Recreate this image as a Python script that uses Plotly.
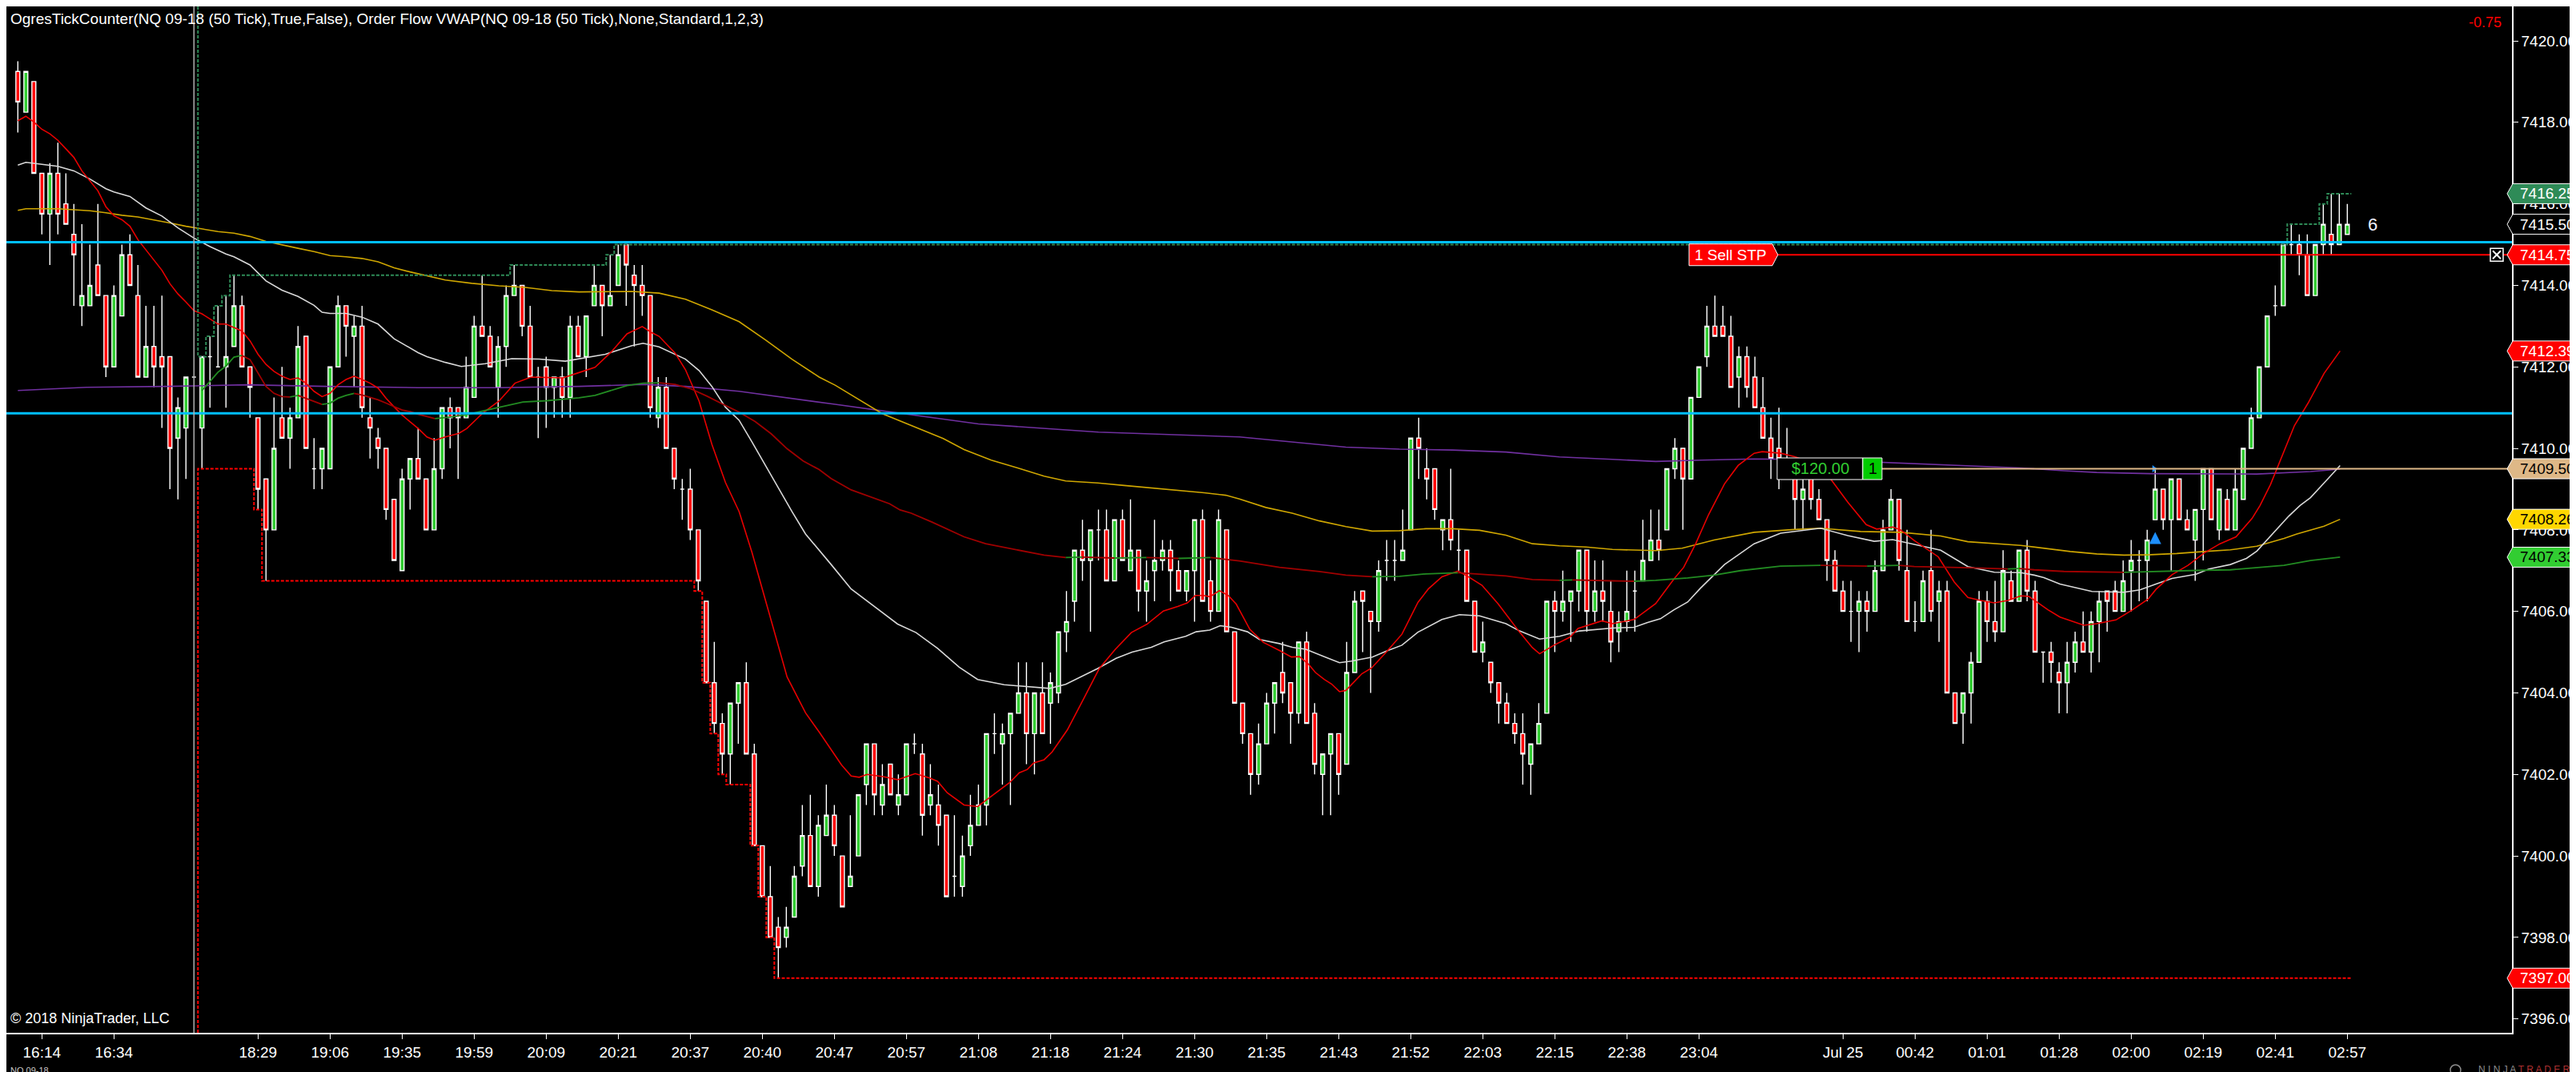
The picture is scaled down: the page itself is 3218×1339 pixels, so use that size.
import plotly.graph_objects as go

# NQ 09-18, 50 tick bars (bar index 0..291)
opens = [
    7419.25, 7418.25, 7419.0, 7416.75, 7415.75, 7416.75, 7416.0, 7415.25, 7413.5, 7413.5,
    7414.5, 7413.75, 7412.0, 7413.25, 7414.75, 7413.75, 7411.75, 7412.5, 7412.25, 7412.25,
    7410.25, 7410.5, 7411.75, 7410.5, 7412.25, 7412.0, 7412.0, 7412.5, 7413.5, 7412.0,
    7410.75, 7409.25, 7408.0, 7410.75, 7410.25, 7410.75, 7412.75, 7409.5, 7409.5, 7409.5,
    7412.0, 7413.5, 7412.75, 7413.0, 7410.75, 7410.25, 7410.0, 7408.75, 7407.0, 7409.25,
    7409.75, 7409.25, 7408.0, 7409.5, 7411.0, 7411.0, 7410.75, 7411.25, 7413.0, 7412.75,
    7411.5, 7412.5, 7413.75, 7414.0, 7413.0, 7411.75, 7412.0, 7411.5, 7411.75, 7411.25,
    7413.0, 7412.25, 7413.5, 7414.0, 7413.5, 7414.0, 7415.0, 7414.25, 7414.0, 7413.75,
    7410.75, 7411.5, 7410.0, 7409.0, 7409.0, 7408.0, 7406.25, 7404.25, 7403.25, 7402.5,
    7403.75, 7404.25, 7402.5, 7400.25, 7399.0, 7398.25, 7398.0, 7398.5, 7399.75, 7400.5,
    7399.25, 7400.5, 7401.0, 7400.0, 7399.25, 7400.0, 7401.75, 7402.75, 7401.25, 7402.25,
    7401.25, 7401.5, 7402.75, 7402.5, 7401.25, 7401.25, 7401.0, 7399.5, 7399.25, 7400.25,
    7400.75, 7401.25, 7403.0, 7402.75, 7403.0, 7403.5, 7404.0, 7403.0, 7404.0, 7403.75,
    7404.0, 7405.5, 7406.25, 7407.5, 7407.25, 7408.0, 7408.0, 7406.75, 7408.25, 7407.0,
    7407.5, 7406.5, 7407.0, 7407.25, 7407.5, 7407.0, 7406.5, 7407.0, 7408.25, 7406.75,
    7406.0, 7408.0, 7405.5, 7403.75, 7403.0, 7402.0, 7402.75, 7403.75, 7404.5, 7404.25,
    7403.5, 7405.25, 7403.5, 7402.0, 7402.5, 7403.0, 7402.25, 7404.5, 7406.5, 7406.0,
    7405.75, 7407.25, 7407.25, 7407.25, 7408.0, 7410.25, 7409.5, 7409.5, 7408.0, 7408.25,
    7407.5, 7407.5, 7406.25, 7405.0, 7404.75, 7404.25, 7403.75, 7403.25, 7403.0, 7402.25,
    7402.75, 7403.5, 7406.25, 7406.0, 7406.25, 7406.5, 7407.5, 7406.0, 7406.5, 7406.0,
    7405.5, 7405.75, 7406.5, 7406.75, 7407.25, 7407.75, 7408.0, 7409.5, 7410.0, 7409.25,
    7411.25, 7412.25, 7413.0, 7413.0, 7412.75, 7411.75, 7412.25, 7411.75, 7411.0, 7410.25,
    7410.0, 7409.75, 7409.5, 7408.75, 7409.25, 7408.75, 7408.25, 7407.25, 7406.5, 7406.0,
    7406.0, 7406.25, 7406.0, 7407.0, 7408.0, 7408.75, 7407.0, 7405.75, 7405.75, 7407.0,
    7406.25, 7406.5, 7404.0, 7403.5, 7404.0, 7404.75, 7406.25, 7405.75, 7405.5, 7406.75,
    7406.25, 7407.5, 7406.5, 7405.0, 7405.0, 7404.5, 7404.25, 7404.75, 7405.25, 7405.0,
    7405.75, 7406.5, 7406.5, 7406.0, 7407.0, 7407.25, 7407.25, 7408.25, 7409.0, 7408.25,
    7409.25, 7408.25, 7407.75, 7408.5, 7409.5, 7408.0, 7408.75, 7408.0, 7408.75, 7410.0,
    7410.75, 7412.0, 7413.5, 7413.5, 7415.0, 7415.0, 7414.75, 7413.75, 7415.0, 7415.25,
    7415.0, 7415.25,
]
highs = [
    7419.5, 7419.25, 7419.0, 7416.75, 7417.0, 7417.5, 7416.75, 7416.0, 7415.5, 7415.0,
    7416.0, 7413.75, 7414.0, 7415.0, 7415.25, 7414.5, 7413.5, 7413.5, 7413.75, 7412.25,
    7411.25, 7411.75, 7411.75, 7412.25, 7412.75, 7413.5, 7413.75, 7414.25, 7413.75, 7412.0,
    7410.75, 7409.25, 7411.25, 7412.0, 7411.0, 7413.0, 7412.75, 7410.25, 7410.0, 7412.0,
    7413.75, 7413.5, 7413.25, 7413.5, 7411.25, 7410.5, 7410.0, 7408.75, 7409.5, 7409.75,
    7410.5, 7409.25, 7410.25, 7411.0, 7411.25, 7411.0, 7412.25, 7413.25, 7414.25, 7413.0,
    7412.75, 7414.0, 7414.5, 7414.0, 7413.5, 7412.0, 7412.25, 7411.75, 7412.0, 7413.25,
    7413.25, 7413.25, 7414.5, 7414.0, 7414.75, 7415.0, 7415.0, 7414.5, 7414.5, 7413.75,
    7411.75, 7411.75, 7410.0, 7409.25, 7409.5, 7408.0, 7406.25, 7405.25, 7403.5, 7403.75,
    7404.25, 7404.75, 7402.75, 7400.25, 7399.75, 7398.5, 7398.75, 7399.75, 7401.25, 7401.5,
    7401.0, 7401.75, 7401.25, 7400.0, 7401.0, 7401.5, 7402.75, 7402.75, 7402.25, 7402.25,
    7402.0, 7402.75, 7403.0, 7402.75, 7402.25, 7401.75, 7401.0, 7401.0, 7400.5, 7401.5,
    7401.75, 7403.0, 7403.5, 7403.25, 7403.5, 7404.75, 7404.75, 7404.0, 7404.75, 7404.5,
    7405.5, 7406.5, 7407.5, 7408.25, 7408.0, 7408.5, 7408.5, 7408.25, 7408.5, 7408.75,
    7407.5, 7407.25, 7408.25, 7407.75, 7407.75, 7407.25, 7407.0, 7408.25, 7408.5, 7407.25,
    7408.5, 7408.0, 7405.5, 7403.75, 7403.0, 7403.25, 7404.0, 7404.25, 7405.25, 7404.25,
    7405.25, 7405.5, 7403.75, 7402.5, 7403.0, 7403.0, 7405.25, 7406.5, 7406.5, 7406.0,
    7407.25, 7407.75, 7407.75, 7408.5, 7410.25, 7410.75, 7410.0, 7409.5, 7408.25, 7409.5,
    7408.0, 7407.5, 7406.25, 7405.75, 7404.75, 7404.25, 7404.0, 7403.5, 7403.5, 7402.75,
    7403.75, 7406.25, 7406.5, 7407.0, 7406.5, 7407.5, 7407.5, 7407.25, 7407.25, 7406.75,
    7406.0, 7407.0, 7407.0, 7408.25, 7408.5, 7408.5, 7409.5, 7410.25, 7410.0, 7411.25,
    7412.0, 7413.5, 7413.75, 7413.5, 7413.25, 7412.5, 7412.5, 7412.25, 7411.75, 7410.75,
    7411.0, 7410.5, 7409.5, 7409.25, 7409.25, 7409.0, 7408.25, 7407.5, 7406.75, 7406.75,
    7406.5, 7406.5, 7407.25, 7408.25, 7409.0, 7408.75, 7408.0, 7406.25, 7407.0, 7408.0,
    7406.75, 7406.75, 7404.0, 7404.0, 7405.0, 7406.5, 7406.5, 7406.75, 7407.5, 7407.0,
    7407.5, 7407.75, 7406.75, 7405.0, 7405.25, 7404.75, 7405.25, 7405.5, 7406.0, 7406.0,
    7406.5, 7406.5, 7406.75, 7407.25, 7407.75, 7407.5, 7408.0, 7409.5, 7409.0, 7409.25,
    7409.25, 7408.5, 7408.5, 7409.5, 7409.5, 7409.0, 7409.0, 7409.5, 7410.0, 7411.0,
    7412.0, 7413.25, 7414.0, 7415.0, 7415.5, 7415.25, 7415.25, 7415.0, 7416.0, 7416.25,
    7416.25, 7416.0,
]
lows = [
    7417.75, 7418.25, 7416.75, 7415.25, 7414.5, 7415.25, 7415.5, 7413.5, 7413.0, 7413.5,
    7413.75, 7411.75, 7412.0, 7413.25, 7414.0, 7411.75, 7411.75, 7411.5, 7410.5, 7409.0,
    7408.75, 7409.25, 7411.75, 7409.5, 7411.0, 7412.0, 7411.0, 7412.5, 7412.0, 7410.75,
    7408.5, 7406.75, 7408.0, 7410.25, 7409.5, 7410.75, 7410.0, 7409.0, 7409.0, 7409.5,
    7412.0, 7412.25, 7411.5, 7410.75, 7409.75, 7409.5, 7408.25, 7407.25, 7407.0, 7408.5,
    7409.25, 7408.0, 7408.0, 7409.25, 7410.0, 7409.25, 7410.75, 7411.25, 7412.75, 7412.0,
    7410.75, 7412.0, 7413.75, 7412.75, 7411.75, 7410.25, 7410.5, 7410.75, 7410.75, 7410.75,
    7412.25, 7411.75, 7413.5, 7412.75, 7413.5, 7414.0, 7413.5, 7412.5, 7413.25, 7410.75,
    7410.5, 7410.0, 7409.0, 7408.25, 7407.75, 7406.5, 7404.25, 7403.0, 7402.0, 7401.75,
    7402.75, 7402.5, 7400.25, 7399.0, 7398.0, 7397.0, 7397.75, 7398.5, 7399.5, 7399.25,
    7399.0, 7400.5, 7400.0, 7398.75, 7399.25, 7400.0, 7401.25, 7401.0, 7401.0, 7401.5,
    7401.0, 7401.5, 7402.5, 7400.5, 7401.0, 7400.25, 7399.0, 7399.0, 7399.0, 7400.0,
    7400.75, 7400.75, 7402.5, 7401.75, 7401.25, 7403.5, 7402.25, 7402.0, 7403.0, 7402.75,
    7403.75, 7405.0, 7405.75, 7406.75, 7405.5, 7407.25, 7406.75, 7406.75, 7407.25, 7407.0,
    7406.0, 7405.75, 7406.25, 7407.0, 7406.25, 7406.5, 7406.25, 7405.75, 7406.25, 7405.75,
    7406.0, 7405.5, 7403.75, 7402.75, 7401.5, 7401.75, 7402.75, 7403.0, 7403.75, 7402.75,
    7403.25, 7403.25, 7402.0, 7401.0, 7401.0, 7401.5, 7402.25, 7404.5, 7405.0, 7404.0,
    7405.5, 7406.75, 7406.75, 7407.25, 7408.0, 7409.25, 7408.75, 7408.25, 7407.5, 7407.5,
    7407.0, 7406.25, 7405.0, 7404.75, 7404.0, 7403.25, 7403.25, 7402.75, 7401.75, 7401.5,
    7402.75, 7403.5, 7405.0, 7405.75, 7405.25, 7406.0, 7405.5, 7405.75, 7405.75, 7404.75,
    7405.0, 7405.5, 7405.5, 7406.75, 7407.25, 7407.25, 7408.0, 7409.25, 7408.0, 7409.25,
    7411.25, 7412.0, 7412.75, 7412.75, 7411.5, 7411.0, 7411.25, 7411.0, 7410.25, 7409.25,
    7409.0, 7409.25, 7408.0, 7408.0, 7408.5, 7408.25, 7406.75, 7406.5, 7406.0, 7405.25,
    7405.0, 7405.5, 7406.0, 7407.0, 7408.0, 7407.0, 7405.75, 7405.5, 7405.75, 7405.75,
    7405.25, 7404.0, 7403.25, 7402.75, 7403.25, 7404.75, 7405.25, 7405.25, 7405.5, 7406.25,
    7406.25, 7406.25, 7405.0, 7404.25, 7404.25, 7403.5, 7403.5, 7404.5, 7405.0, 7404.5,
    7404.75, 7405.5, 7406.0, 7406.0, 7406.0, 7406.25, 7406.25, 7408.25, 7408.0, 7407.0,
    7408.25, 7408.0, 7406.75, 7407.25, 7408.25, 7407.75, 7408.0, 7408.0, 7408.75, 7410.0,
    7410.75, 7412.0, 7413.25, 7413.5, 7414.75, 7414.25, 7413.75, 7413.75, 7414.75, 7414.75,
    7415.0, 7415.25,
]
closes = [
    7418.5, 7419.25, 7416.75, 7415.75, 7416.75, 7415.75, 7415.5, 7414.75, 7413.75, 7414.0,
    7413.75, 7412.0, 7413.75, 7414.75, 7414.0, 7411.75, 7412.5, 7412.0, 7412.0, 7410.0,
    7411.0, 7411.75, 7411.75, 7412.25, 7412.25, 7412.0, 7412.25, 7413.5, 7412.0, 7411.5,
    7409.0, 7408.0, 7410.0, 7410.25, 7410.75, 7412.5, 7410.0, 7409.5, 7410.0, 7412.0,
    7413.5, 7413.0, 7413.0, 7411.0, 7410.5, 7410.0, 7408.5, 7407.25, 7409.25, 7409.75,
    7409.25, 7408.0, 7409.5, 7411.0, 7410.75, 7410.75, 7411.5, 7413.0, 7412.75, 7412.0,
    7412.5, 7413.75, 7414.0, 7413.0, 7411.75, 7411.75, 7411.5, 7411.75, 7411.25, 7413.0,
    7412.25, 7413.25, 7414.0, 7413.5, 7413.75, 7414.75, 7414.5, 7414.0, 7413.75, 7411.0,
    7411.5, 7410.0, 7409.25, 7409.0, 7408.0, 7406.75, 7404.25, 7403.25, 7402.5, 7403.75,
    7404.25, 7402.5, 7400.25, 7399.0, 7398.0, 7397.75, 7398.25, 7399.5, 7400.5, 7399.25,
    7400.75, 7401.0, 7400.25, 7398.75, 7399.5, 7401.5, 7402.75, 7401.5, 7401.75, 7401.5,
    7401.5, 7402.75, 7402.75, 7401.0, 7401.5, 7400.75, 7399.0, 7399.5, 7400.0, 7400.75,
    7401.25, 7403.0, 7403.0, 7403.0, 7403.5, 7404.0, 7403.0, 7404.0, 7403.0, 7404.25,
    7405.5, 7405.75, 7407.5, 7407.25, 7408.0, 7408.0, 7406.75, 7408.25, 7407.25, 7407.5,
    7406.5, 7406.75, 7407.25, 7407.5, 7407.0, 7406.5, 7407.0, 7408.25, 7406.25, 7406.0,
    7408.25, 7405.5, 7403.75, 7403.0, 7402.0, 7402.75, 7403.75, 7404.25, 7404.0, 7403.5,
    7405.25, 7403.25, 7402.25, 7402.5, 7403.0, 7402.0, 7404.5, 7406.25, 7406.25, 7405.75,
    7407.0, 7407.25, 7407.25, 7407.5, 7410.25, 7410.0, 7409.25, 7408.5, 7408.25, 7407.75,
    7407.5, 7406.25, 7405.0, 7405.25, 7404.25, 7403.75, 7403.25, 7403.0, 7402.5, 7402.75,
    7403.25, 7406.25, 7406.0, 7406.25, 7406.5, 7407.5, 7406.0, 7406.5, 7406.25, 7405.25,
    7405.75, 7406.0, 7406.5, 7407.25, 7407.75, 7407.5, 7409.5, 7410.0, 7409.25, 7411.25,
    7412.0, 7413.0, 7412.75, 7412.75, 7411.5, 7412.25, 7411.5, 7411.0, 7410.25, 7409.75,
    7409.75, 7409.5, 7408.75, 7409.0, 7408.75, 7408.25, 7407.25, 7406.5, 7406.0, 7406.0,
    7406.25, 7406.0, 7407.0, 7408.0, 7408.75, 7407.25, 7405.75, 7405.75, 7406.75, 7406.0,
    7406.5, 7404.0, 7403.25, 7404.0, 7404.75, 7406.25, 7405.75, 7405.5, 7407.0, 7406.25,
    7407.5, 7406.5, 7405.0, 7405.0, 7404.75, 7404.25, 7404.75, 7405.25, 7405.0, 7405.75,
    7406.25, 7406.25, 7406.0, 7406.75, 7407.25, 7407.25, 7407.75, 7409.0, 7408.25, 7409.25,
    7408.25, 7408.0, 7408.5, 7409.5, 7408.25, 7409.0, 7408.0, 7409.0, 7410.0, 7410.75,
    7412.0, 7413.25, 7413.5, 7415.0, 7415.0, 7414.75, 7413.75, 7415.0, 7415.5, 7415.0,
    7415.5, 7415.5,
]

# time labels (every 9th bar, some skipped by NinjaTrader)
tick_bars = [3, 12, 30, 39, 48, 57, 66, 75, 84, 93, 102, 111, 120, 129, 138, 147, 156, 165,
             174, 183, 192, 201, 210, 228, 237, 246, 255, 264, 273, 282, 291]
tick_text = ["16:14", "16:34", "18:29", "19:06", "19:35", "19:59", "20:09", "20:21", "20:37",
             "20:40", "20:47", "20:57", "21:08", "21:18", "21:24", "21:30", "21:35", "21:43",
             "21:52", "22:03", "22:15", "22:38", "23:04", "Jul 25", "00:42", "01:01", "01:28",
             "02:00", "02:19", "02:41", "02:57"]

# indicator lines, sampled points (bar position, value)
fast_bars = [0, 1, 2, 3, 4, 5, 6, 7, 8, 9, 10, 11, 12, 13, 14, 15, 16, 17, 18, 19, 20, 21, 22, 23, 24,
             25, 26, 27, 28, 29, 30, 31, 32, 33, 34, 35, 36, 37, 38, 39, 40, 41, 42, 43, 44, 45, 46, 47,
             48, 49, 50, 51.1, 52.1, 53.4, 55.1, 56.1, 58.1, 60.1, 62.1, 64.1, 66.1, 68.1, 70.1, 72.1,
             74.1, 76.1, 78, 79.1, 80.1, 82.1, 83.4, 85.1, 86.7, 88.4, 90.1, 91.7, 93.4, 95.1, 96.1,
             98.4, 100.1, 102.9, 104.1, 105.1, 106.1, 108.2, 109.9, 112.1, 113.9, 114.9, 116.1, 118.2,
             119.9, 120.9, 122.2, 123.9, 125.1, 126.1, 126.9, 128.2, 129.2, 131.1, 133.1, 135.1, 137.1,
             139.1, 141.1, 143.1, 144.9, 146.1, 147.1, 148.1, 148.9, 150.1, 151.2, 152.2, 153.9, 155.6,
             157.6, 159.1, 160.1, 161.2, 162.1, 163.2, 164.1, 165.1, 165.9, 167.9, 169.1, 170.9, 172.9,
             174.9, 176.2, 177.9, 179.9, 181.2, 182.9, 184.9, 187.6, 189.2, 190.1, 191.9, 193.9, 194.9,
             197.9, 199.2, 201.9, 204.6, 206.9, 208.1, 209.6, 211.2, 213.2, 214.9, 216.9, 217.9, 220.2,
             221.9, 225.2, 226.9, 228.6, 230.9, 232.2, 234.2, 235.2, 236.9, 239.9, 241.9, 243.6, 245.2,
             246.9, 248.6, 250.2, 251.2, 253.6, 255.1, 258.1, 259.7, 262.1, 264.1, 266.1, 267.1, 269.1,
             271.1, 273.1, 275.1, 277.1, 279.1, 280.1, 281.4, 282.4, 284.4, 286.1, 288.1, 290.1]
fast_vals = [7418.04, 7418.15, 7418.01, 7417.83, 7417.72, 7417.56, 7417.35, 7417.14, 7416.81, 7416.56,
             7416.32, 7415.93, 7415.71, 7415.61, 7415.45, 7415.12, 7414.87, 7414.62, 7414.37, 7414.04,
             7413.79, 7413.59, 7413.38, 7413.30, 7413.17, 7413.05, 7413.05, 7412.97, 7412.88, 7412.64,
             7412.31, 7412.06, 7411.89, 7411.77, 7411.69, 7411.73, 7411.60, 7411.40, 7411.27, 7411.35,
             7411.56, 7411.69, 7411.77, 7411.69, 7411.60, 7411.48, 7411.23, 7411.02, 7410.82, 7410.65,
             7410.49, 7410.28, 7410.20, 7410.28, 7410.37, 7410.49, 7410.87, 7411.16, 7411.60, 7411.75,
             7411.74, 7411.73, 7411.86, 7411.99, 7412.36, 7412.81, 7412.99, 7412.85, 7412.75, 7412.34,
             7411.93, 7411.16, 7410.10, 7409.16, 7408.45, 7407.45, 7406.27, 7405.10, 7404.39, 7403.51,
             7403.04, 7402.23, 7401.96, 7401.93, 7402.00, 7401.94, 7401.87, 7402.02, 7401.91, 7401.83,
             7401.55, 7401.25, 7401.21, 7401.36, 7401.55, 7401.80, 7402.04, 7402.12, 7402.28, 7402.36,
             7402.55, 7403.09, 7403.84, 7404.60, 7405.07, 7405.48, 7405.69, 7406.01, 7406.12, 7406.21,
             7406.39, 7406.39, 7406.36, 7406.51, 7406.39, 7406.18, 7405.56, 7405.24, 7405.04, 7404.88,
             7404.89, 7404.71, 7404.50, 7404.33, 7404.22, 7404.03, 7404.06, 7404.47, 7404.61, 7404.99,
             7405.44, 7406.22, 7406.55, 7406.85, 7406.99, 7406.85, 7406.64, 7406.19, 7405.49, 7405.11,
             7404.96, 7405.17, 7405.37, 7405.58, 7405.77, 7405.70, 7405.80, 7406.19, 7406.80, 7407.08,
             7407.66, 7408.37, 7409.13, 7409.58, 7409.88, 7409.92, 7409.88, 7409.80, 7409.58, 7409.13,
             7408.68, 7408.13, 7408.02, 7408.07, 7408.00, 7407.74, 7407.34, 7406.72, 7406.34, 7406.27,
             7406.21, 7406.27, 7406.38, 7406.37, 7406.04, 7405.86, 7405.66, 7405.70, 7405.79, 7406.03,
             7406.30, 7406.54, 7406.90, 7407.13, 7407.43, 7407.66, 7407.83, 7408.28, 7408.60, 7409.11,
             7409.60, 7410.56, 7411.11, 7411.84, 7412.39]

white_bars = [0, 1, 3, 5, 7, 9, 11, 12, 14, 16, 18, 20, 22, 24, 26, 27, 29, 31, 33, 35, 37, 38, 39, 41,
              43, 45, 47, 49, 50, 51.1, 53.4, 55.4, 58.4, 61.7, 65.1, 68.4, 73.4, 76.7, 78.1, 80.1, 83.4,
              85.1, 86.7, 88.4, 90.1, 91.7, 93.4, 95.1, 96.7, 98.4, 100.1, 101.6, 104.1, 106.6, 109.9,
              112.2, 114.9, 117.6, 119.9, 123.2, 126.6, 128.9, 130.9, 133.2, 134.9, 137.2, 139.2, 141.6,
              143.2, 145.9, 147.2, 148.9, 150.2, 151.6, 153.6, 155.1, 157.6, 159.2, 160.9, 163.2, 165.1,
              166.6, 169.2, 170.9, 172.9, 174.9, 177.9, 180.1, 182.6, 185.9, 187.6, 190.1, 192.6, 195.1,
              199.2, 201.9, 203.6, 205.2, 206.9, 208.6, 210.2, 213.2, 216.9, 220.2, 223.6, 225.2, 228.6,
              231.9, 234.2, 236.9, 240.2, 241.9, 243.6, 246.9, 250.2, 251.9, 253.1, 255.1, 259.1, 263.1,
              265.1, 267.1, 269.1, 272.1, 273.7, 276.4, 278.4, 279.7, 281.7, 283.7, 285.1, 286.4, 288.1,
              290.1]
white_vals = [7416.95, 7417.02, 7416.97, 7416.92, 7416.81, 7416.61, 7416.37, 7416.29, 7416.18, 7415.90,
              7415.70, 7415.41, 7415.16, 7414.95, 7414.77, 7414.70, 7414.50, 7414.11, 7413.88, 7413.73,
              7413.51, 7413.34, 7413.31, 7413.31, 7413.22, 7413.05, 7412.69, 7412.47, 7412.35, 7412.25,
              7412.11, 7412.01, 7412.08, 7412.20, 7412.19, 7412.14, 7412.31, 7412.52, 7412.58, 7412.49,
              7412.19, 7411.91, 7411.52, 7411.01, 7410.69, 7410.16, 7409.57, 7408.98, 7408.45, 7407.90,
              7407.51, 7407.15, 7406.55, 7406.18, 7405.69, 7405.48, 7405.09, 7404.63, 7404.33, 7404.20,
              7404.15, 7404.11, 7404.21, 7404.43, 7404.60, 7404.85, 7405.00, 7405.12, 7405.25, 7405.39,
              7405.50, 7405.54, 7405.65, 7405.61, 7405.50, 7405.31, 7405.21, 7405.12, 7405.07, 7404.89,
              7404.74, 7404.78, 7404.88, 7405.02, 7405.17, 7405.49, 7405.80, 7405.92, 7405.89, 7405.70,
              7405.52, 7405.32, 7405.39, 7405.52, 7405.59, 7405.61, 7405.73, 7405.82, 7406.04, 7406.23,
              7406.57, 7407.15, 7407.66, 7407.92, 7408.01, 7408.04, 7407.86, 7407.72, 7407.76, 7407.64,
              7407.50, 7407.30, 7407.10, 7406.96, 7406.95, 7406.89, 7406.83, 7406.67, 7406.49, 7406.47,
              7406.53, 7406.67, 7406.81, 7406.91, 7407.04, 7407.15, 7407.30, 7407.48, 7407.92, 7408.34,
              7408.60, 7408.79, 7409.15, 7409.58]

gold_bars = [0, 1, 5, 7, 9, 11, 13, 15, 17, 19, 21, 23, 25, 27, 29, 31, 33, 35, 37, 39, 41, 43, 45, 47,
             49, 53.4, 56.7, 60.1, 63.4, 66.7, 70.1, 73.4, 76.7, 80.1, 83.4, 86.7, 90.1, 93.4, 96.7, 100.1,
             102.1, 108, 115.6, 118.2, 121.6, 124.9, 128.2, 130.9, 134.9, 138.2, 141.6, 144.9, 148.2,
             150.9, 152.6, 155.9, 159.2, 162.6, 165.9, 169.2, 172.6, 175.9, 179.2, 182.6, 185.9, 189.2,
             192.6, 195.9, 199.2, 204.6, 207.9, 211.9, 216.9, 221.9, 225.2, 230.2, 235.2, 240.2, 243.6,
             250.2, 256.4, 259.7, 263.1, 266.4, 269.7, 273.1, 276.4, 279.7, 281.4, 283.1, 284.7, 286.4,
             288.1, 290.1]
gold_vals = [7415.84, 7415.88, 7415.88, 7415.86, 7415.83, 7415.78, 7415.72, 7415.68, 7415.61, 7415.53,
             7415.45, 7415.38, 7415.32, 7415.28, 7415.20, 7415.08, 7414.99, 7414.91, 7414.83, 7414.73,
             7414.70, 7414.66, 7414.58, 7414.43, 7414.33, 7414.13, 7414.05, 7413.99, 7413.95, 7413.87,
             7413.84, 7413.84, 7413.85, 7413.81, 7413.66, 7413.40, 7413.11, 7412.66, 7412.19, 7411.75,
             7411.55, 7410.85, 7410.24, 7409.97, 7409.71, 7409.52, 7409.32, 7409.20, 7409.15, 7409.09,
             7409.03, 7408.97, 7408.91, 7408.85, 7408.76, 7408.55, 7408.41, 7408.22, 7408.08, 7407.97,
             7407.98, 7408.03, 7408.03, 7407.99, 7407.87, 7407.66, 7407.61, 7407.58, 7407.52, 7407.49,
             7407.55, 7407.75, 7407.94, 7408.01, 7408.04, 7407.96, 7407.94, 7407.85, 7407.71, 7407.62,
             7407.47, 7407.41, 7407.38, 7407.39, 7407.42, 7407.47, 7407.51, 7407.60, 7407.69, 7407.79,
             7407.90, 7408.00, 7408.09, 7408.26]

vwap_bars = [23, 24, 25, 26, 27, 28, 29, 30, 31, 32, 33, 34, 35, 36, 37, 38, 39, 40, 41, 42, 43, 44, 45,
             46, 47, 48, 49, 50, 52.1, 54.1, 56.1, 58.1, 60.1, 63.1, 66.1, 68.1, 70.1, 72.1, 74.1, 76.1,
             78.1, 80.1, 82.1, 84.1, 86.1, 88.1, 90.1, 92.1, 94.1, 96.1, 98.1, 100.1, 101.6, 104.1, 106.6,
             108.9, 110.2, 111.6, 114.2, 115.6, 118.2, 120.9, 124.9, 128.2, 130.9, 133, 135, 137, 139,
             141, 143, 145, 147, 149, 151.6, 152.6, 157.6, 162.6, 165.9, 169.2, 172.6, 175.9, 179.9,
             182.6, 185.9, 189.2, 192.6, 194.2, 195.9, 199.2, 201.9, 204.6, 208.6, 211.9, 215.2, 220.2,
             225.2, 228, 231, 233.6, 235, 236.9, 243.6, 248.6, 250, 251.9, 255.6, 258.1, 263.1, 266.4,
             269.7, 273.1, 276.4, 279.7, 283.1, 286.4, 290.1]
vwap_vals = [7411.42, 7411.64, 7411.87, 7412.02, 7412.24, 7412.28, 7412.18, 7411.85, 7411.52, 7411.35,
             7411.27, 7411.26, 7411.30, 7411.23, 7411.15, 7411.08, 7411.11, 7411.23, 7411.30, 7411.35,
             7411.31, 7411.25, 7411.19, 7411.11, 7411.02, 7410.94, 7410.90, 7410.84, 7410.73, 7410.77,
             7410.83, 7410.92, 7411.01, 7411.14, 7411.17, 7411.20, 7411.24, 7411.30, 7411.42, 7411.54,
             7411.60, 7411.61, 7411.57, 7411.46, 7411.28, 7411.08, 7410.89, 7410.66, 7410.36, 7409.99,
             7409.69, 7409.48, 7409.26, 7408.98, 7408.81, 7408.64, 7408.49, 7408.41, 7408.19, 7408.06,
             7407.83, 7407.66, 7407.51, 7407.38, 7407.32, 7407.33, 7407.32, 7407.31, 7407.31, 7407.32,
             7407.31, 7407.30, 7407.31, 7407.32, 7407.27, 7407.24, 7407.08, 7406.98, 7406.89, 7406.85,
             7406.86, 7406.92, 7406.95, 7406.92, 7406.87, 7406.78, 7406.76, 7406.77, 7406.76, 7406.75,
             7406.74, 7406.76, 7406.82, 7406.89, 7407.00, 7407.11, 7407.13, 7407.12, 7407.11, 7407.12,
             7407.13, 7407.10, 7407.07, 7407.04, 7407.05, 7407.02, 7406.98, 7406.97, 7406.96, 7406.98,
             7407.00, 7407.01, 7407.02, 7407.07, 7407.13, 7407.25, 7407.33]

purple_bars = [0, 8.6, 18.6, 28.6, 38.6, 50, 60.1, 70.1, 78.1, 83.4, 90.1, 96.7, 102.1, 120, 135, 152.6,
               159.2, 165.9, 172.6, 179.2, 185.9, 192.6, 199.2, 204.6, 210.2, 216.9, 223.6, 230.2, 236.9,
               243.6, 250.2, 255.6, 259.7, 266.4, 273.1, 279.7, 286.4, 290.1]
purple_vals = [7411.42, 7411.50, 7411.52, 7411.56, 7411.52, 7411.49, 7411.49, 7411.52, 7411.57, 7411.52,
               7411.40, 7411.22, 7411.08, 7410.60, 7410.40, 7410.28, 7410.15, 7410.03, 7409.98, 7409.96,
               7409.91, 7409.79, 7409.73, 7409.68, 7409.71, 7409.74, 7409.73, 7409.68, 7409.63, 7409.58,
               7409.52, 7409.45, 7409.41, 7409.38, 7409.37, 7409.37, 7409.43, 7409.49]

session_start = 23
hline_prices = [7415.06, 7410.86]
stop_price = 7414.75
entry_price = 7409.50
entry_bar = 267
ticks_left = "6"
pnl_text = "-0.75"

# ---- geometry of the NinjaTrader panel ----
W, H = 3218, 1339
PLOT_W, PLOT_H = 3130, 1282
Y_BOT, Y_TOP = 7395.66, 7420.845
X_MIN, X_MAX = -1.43, 311.57
FONT = "Liberation Sans, Arial, sans-serif"

n = len(closes)
bars = list(range(n))


def py(price):
    return (price - Y_BOT) / (Y_TOP - Y_BOT)


def px(x_pixel):
    return x_pixel / PLOT_W


def label(x, y, text, size, color, xanchor="center", xref="paper", yref="paper"):
    return dict(xref=xref, yref=yref, x=x, y=y, text=text, showarrow=False,
                xanchor=xanchor, yanchor="middle", borderpad=0,
                font=dict(family=FONT, size=size, color=color))


fig = go.Figure()

fig.add_trace(go.Candlestick(
    x=bars, open=opens, high=highs, low=lows, close=closes,
    increasing=dict(fillcolor="#32cd32", line=dict(color="white", width=1.4)),
    decreasing=dict(fillcolor="#ff0000", line=dict(color="white", width=1.4)),
    whiskerwidth=0, hoverinfo="skip", showlegend=False,
))

# moving averages
for xs, ys, col in [(purple_bars, purple_vals, "#7030a0"),
                    (gold_bars, gold_vals, "#cfa600"),
                    (white_bars, white_vals, "#d8d8d8"),
                    (fast_bars, fast_vals, "#e80000")]:
    fig.add_trace(go.Scatter(x=xs, y=ys, mode="lines", line=dict(color=col, width=1.6),
                             hoverinfo="skip", showlegend=False))

# session VWAP, coloured by slope
seg_x, seg_y = [vwap_bars[0]], [vwap_vals[0]]
seg_up = None
for k in range(1, len(vwap_bars)):
    up = vwap_vals[k] >= vwap_vals[k - 1]
    if seg_up is not None and up != seg_up:
        fig.add_trace(go.Scatter(x=seg_x, y=seg_y, mode="lines", hoverinfo="skip", showlegend=False,
                                 line=dict(color="#228b22" if seg_up else "#a00000", width=1.8)))
        seg_x, seg_y = [vwap_bars[k - 1]], [vwap_vals[k - 1]]
    seg_x.append(vwap_bars[k])
    seg_y.append(vwap_vals[k])
    seg_up = up
fig.add_trace(go.Scatter(x=seg_x, y=seg_y, mode="lines", hoverinfo="skip", showlegend=False,
                         line=dict(color="#228b22" if seg_up else "#a00000", width=1.8)))

# session high / low step lines
run_hi, run_lo = [], []
for i in range(session_start, n):
    run_hi.append(highs[i] if not run_hi else max(run_hi[-1], highs[i]))
    run_lo.append(lows[i] if not run_lo else min(run_lo[-1], lows[i]))
step_x = [session_start - 0.5] + [i - 0.5 for i in range(session_start, n)] + [n - 0.5]
fig.add_trace(go.Scatter(x=step_x, y=[Y_TOP] + run_hi + [run_hi[-1]], mode="lines",
                         line=dict(color="#2e8b57", width=2, dash="4px,2px", shape="hv"),
                         hoverinfo="skip", showlegend=False))
fig.add_trace(go.Scatter(x=step_x, y=[Y_BOT] + run_lo + [run_lo[-1]], mode="lines",
                         line=dict(color="#ff0000", width=2, dash="4px,2px", shape="hv"),
                         hoverinfo="skip", showlegend=False))

# horizontal cyan lines
for p in hline_prices:
    fig.add_trace(go.Scatter(x=[X_MIN, X_MAX], y=[p, p], mode="lines",
                             line=dict(color="#00bfff", width=3), hoverinfo="skip", showlegend=False))

# execution markers
fig.add_trace(go.Scatter(x=[entry_bar], y=[lows[entry_bar] - 0.3], mode="markers",
                         marker=dict(symbol="arrow-up", size=15, color="#1e90ff"),
                         hoverinfo="skip", showlegend=False))
fig.add_trace(go.Scatter(x=[entry_bar - 0.15], y=[entry_price], mode="markers",
                         marker=dict(symbol="triangle-right", size=8, color="#1e90ff"),
                         hoverinfo="skip", showlegend=False))

shapes = []
annotations = []

# session break
shapes.append(dict(type="line", xref="x", yref="paper", x0=session_start - 1, x1=session_start - 1,
                   y0=0, y1=1, line=dict(color="#b0b0b0", width=1.5), layer="above"))

# stop order line + label
stop_y = py(stop_price)
hh = 13.5 / PLOT_H
shapes.append(dict(type="line", xref="paper", yref="paper", x0=px(2212), x1=1.0, y0=stop_y, y1=stop_y,
                   line=dict(color="#ff0000", width=2), layer="above"))
shapes.append(dict(type="path", xref="paper", yref="paper", layer="above",
                   path=f"M {px(2102)},{stop_y + hh} L {px(2206)},{stop_y + hh} L {px(2213)},{stop_y} "
                        f"L {px(2206)},{stop_y - hh} L {px(2102)},{stop_y - hh} Z",
                   fillcolor="#ff0000", line=dict(color="white", width=1)))
annotations.append(label(px(2154), stop_y, "1 Sell STP", 19, "white"))
bx = 8 / PLOT_H
shapes.append(dict(type="rect", xref="paper", yref="paper", x0=px(3103), x1=px(3119),
                   y0=stop_y - bx, y1=stop_y + bx, fillcolor="black",
                   line=dict(color="white", width=1.5), layer="above"))
for a, b in [(1, -1), (-1, 1)]:
    shapes.append(dict(type="line", xref="paper", yref="paper", x0=px(3106), x1=px(3116),
                       y0=stop_y + a * 5 / PLOT_H, y1=stop_y + b * 5 / PLOT_H,
                       line=dict(color="white", width=2), layer="above"))

# filled position line + PnL label
ent_y = py(entry_price)
shapes.append(dict(type="line", xref="paper", yref="paper", x0=px(2343), x1=1.0, y0=ent_y, y1=ent_y,
                   line=dict(color="#deb887", width=2), layer="above"))
shapes.append(dict(type="rect", xref="paper", yref="paper", x0=px(2212), x1=px(2319),
                   y0=ent_y - hh, y1=ent_y + hh, fillcolor="black",
                   line=dict(color="white", width=1), layer="above"))
shapes.append(dict(type="rect", xref="paper", yref="paper", x0=px(2319), x1=px(2343),
                   y0=ent_y - hh, y1=ent_y + hh, fillcolor="#00cc00",
                   line=dict(color="white", width=1), layer="above"))
annotations.append(label(px(2266), ent_y, "$120.00", 20, "#32cd32"))
annotations.append(label(px(2331), ent_y, "1", 20, "black"))

# right-axis price flags
flag_prices = [max(highs[session_start:]), closes[-1], stop_price, fast_vals[-1], entry_price,
               gold_vals[-1], vwap_vals[-1], min(lows[session_start:])]
flag_fill = ["#2e8b57", "#000000", "#ff0000", "#ff0000", "#deb887", "#ffd700", "#32cd32", "#ff0000"]
flag_font = ["white", "white", "white", "white", "black", "black", "black", "white"]
fh = 12.5 / PLOT_H
for p, fc, tc in zip(flag_prices, flag_fill, flag_font):
    yc = py(p)
    shapes.append(dict(type="path", xref="paper", yref="paper", layer="above",
                       path=f"M {px(3124)},{yc} L {px(3131)},{yc + fh} L {px(3217)},{yc + fh} "
                            f"L {px(3217)},{yc - fh} L {px(3131)},{yc - fh} Z",
                       fillcolor=fc, line=dict(color="white", width=1)))
    annotations.append(label(px(3139), yc, f"{p:.2f}", 19, tc, xanchor="left"))

# texts
annotations += [
    label(px(4), 1 - 16 / PLOT_H,
          "OgresTickCounter(NQ 09-18 (50 Tick),True,False), Order Flow VWAP(NQ 09-18 (50 Tick),"
          "None,Standard,1,2,3)", 19, "white", xanchor="left"),
    label(px(3118), 1 - 20 / PLOT_H, pnl_text, 18, "#ff0000", xanchor="right"),
    label(n + 2.2, closes[-1], ticks_left, 22, "#f0f0ff", xref="x", yref="y"),
    label(px(4), 1 - 1264 / PLOT_H, "© 2018 NinjaTrader, LLC", 18, "white", xanchor="left"),
    label(px(4), 1 - 1329 / PLOT_H, "NQ 09-18", 11, "#c8c8c8", xanchor="left"),
    label(px(3216), 1 - 1328 / PLOT_H,
          "<span style='color:#8c8c8c'>N I N J A </span><span style='color:#b03030'>T R A D E R ®</span>",
          12, "#8c8c8c", xanchor="right"),
]
shapes.append(dict(type="circle", xref="paper", yref="paper", x0=px(3053), x1=px(3066),
                   y0=1 - 1335 / PLOT_H, y1=1 - 1322 / PLOT_H, line=dict(color="#8c8c8c", width=1.5)))

fig.update_layout(
    width=W, height=H,
    margin=dict(l=0, r=W - PLOT_W, t=0, b=H - PLOT_H),
    paper_bgcolor="black", plot_bgcolor="black",
    font=dict(family=FONT, color="white"),
    showlegend=False,
    shapes=shapes, annotations=annotations,
    xaxis=dict(range=[X_MIN, X_MAX], rangeslider=dict(visible=False), showgrid=False, zeroline=False,
               tickmode="array", tickvals=tick_bars, ticktext=tick_text, ticks="outside", ticklen=6,
               tickcolor="white", tickfont=dict(family=FONT, size=19, color="white"),
               showline=True, linecolor="white", linewidth=1.5),
    yaxis=dict(range=[Y_BOT, Y_TOP], side="right", showgrid=False, zeroline=False,
               tick0=7396, dtick=2, tickformat=".2f", ticks="outside", ticklen=6, tickcolor="white",
               tickfont=dict(family=FONT, size=19, color="white"),
               showline=True, linecolor="white", linewidth=1.5),
)

fig.write_html("out.html")
